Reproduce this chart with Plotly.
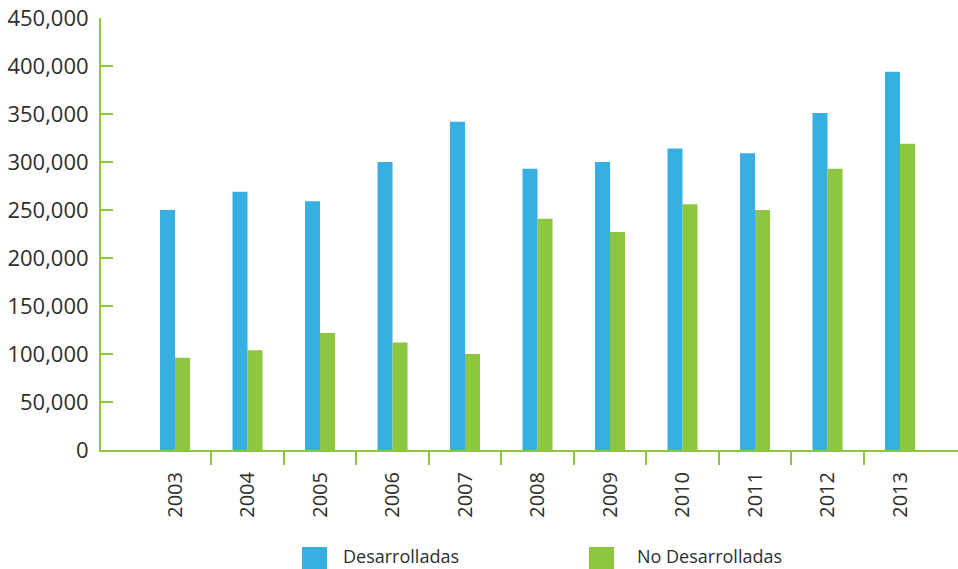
import plotly.graph_objects as go

# Annual values by group
years = [2003, 2004, 2005, 2006, 2007, 2008, 2009, 2010, 2011, 2012, 2013]
desarrolladas = [250000, 269000, 259000, 300000, 342000, 293000, 300000, 314000, 309000, 351000, 394000]
no_desarrolladas = [96000, 104000, 122000, 112000, 100000, 241000, 227000, 256000, 250000, 293000, 319000]
y_ticks = [0, 50000, 100000, 150000, 200000, 250000, 300000, 350000, 400000, 450000]

BLUE = "#37AFE3"
GREEN = "#8DC63F"
TEXT = "#2E2E2E"
FONT = "Open Sans"

W, H = 958, 569
ML, MR, MT, MB = 101, 0, 18, 119

fig = go.Figure()
fig.add_trace(go.Bar(x=years, y=desarrolladas, name="Desarrolladas",
                     marker=dict(color=BLUE, line=dict(width=0))))
fig.add_trace(go.Bar(x=years, y=no_desarrolladas, name="No Desarrolladas",
                     marker=dict(color=GREEN, line=dict(width=0))))

fig.update_layout(
    width=W, height=H,
    margin=dict(l=ML, r=MR, t=MT, b=MB, pad=0),
    paper_bgcolor="white", plot_bgcolor="white",
    barmode="group", bargap=0.586, bargroupgap=0,
    showlegend=False,
    font=dict(family=FONT, color=TEXT),
)

fig.update_xaxes(
    range=[years[0] - 1.021, years[-1] + 0.8],
    tickmode="array", tickvals=years, ticktext=[str(y) for y in years],
    tickangle=-90, ticks="", ticklabelstandoff=12,
    tickfont=dict(size=20, family=FONT, color=TEXT),
    showline=True, linecolor=GREEN, linewidth=2,
    showgrid=False, zeroline=False,
    minor=dict(tickmode="array", tickvals=[y + 0.5 for y in years[:-1]],
               ticks="outside", ticklen=13, tickwidth=2, tickcolor=GREEN,
               showgrid=False),
)

fig.update_yaxes(
    range=[0, 450000],
    tickmode="array", tickvals=y_ticks, tickformat=",",
    ticks="inside", ticklen=12, tickwidth=2, tickcolor=GREEN,
    ticklabelstandoff=6,
    tickfont=dict(size=22, family=FONT, color=TEXT),
    showline=True, linecolor=GREEN, linewidth=2,
    showgrid=False, zeroline=False,
)

# Legend drawn as swatches and labels below the axis
pw, ph = W - ML - MR, H - MT - MB


def px_x(x):
    return (x - ML) / pw


def px_y(y):
    return (H - MB - y) / ph


legend_items = [("Desarrolladas", BLUE, 302, 342), ("No Desarrolladas", GREEN, 589, 636)]
for label, color, sx, tx in legend_items:
    fig.add_shape(type="rect", xref="paper", yref="paper",
                  x0=px_x(sx), x1=px_x(sx + 25), y0=px_y(547), y1=px_y(572),
                  fillcolor=color, line=dict(width=0), layer="above")
    fig.add_annotation(xref="paper", yref="paper", x=px_x(tx), y=px_y(569),
                       text=label, showarrow=False, xanchor="left", yanchor="bottom",
                       borderpad=0,
                       font=dict(size=18, family=FONT, color=TEXT))

fig.write_html("out.html")
